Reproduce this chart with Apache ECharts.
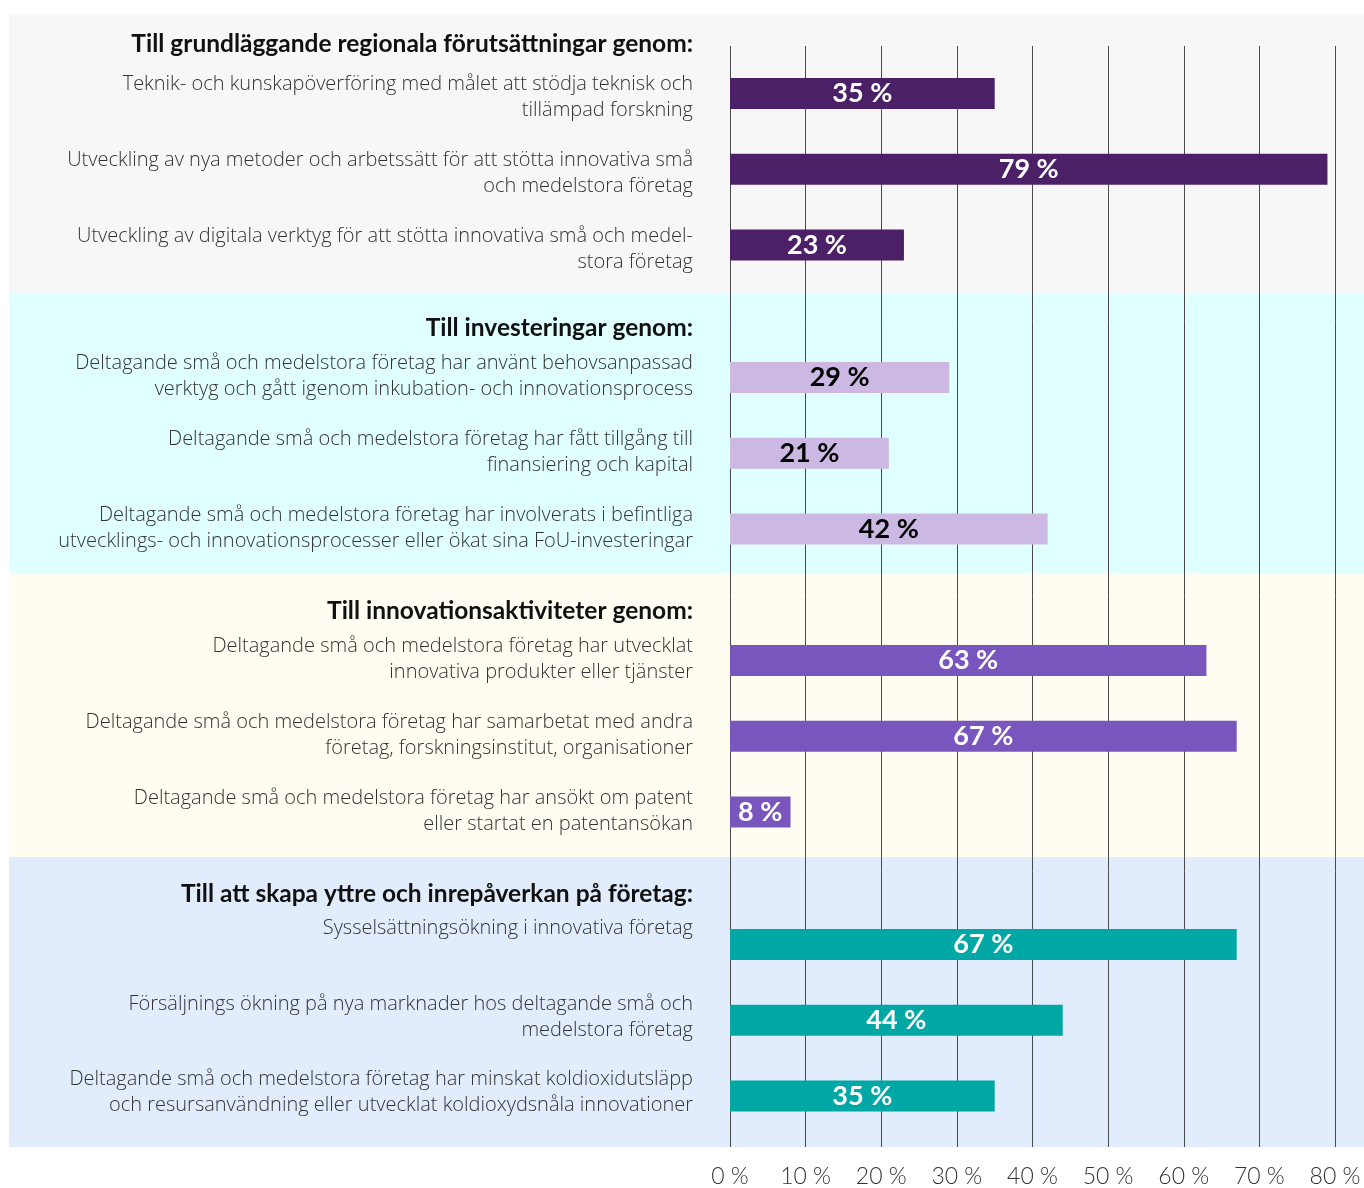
<!DOCTYPE html>
<html>
<head>
<meta charset="utf-8">
<script src="https://cdn.jsdelivr.net/npm/echarts@6/dist/echarts.min.js"></script>
<style>
  html, body { margin: 0; padding: 0; background: #ffffff; }
  #chart { width: 1364px; height: 1188px; }
</style>
</head>
<body>
<div id="chart"></div>
<script>
'use strict';

// group headings
const groupTitles = [
    'Till grundläggande regionala förutsättningar genom:',
    'Till investeringar genom:',
    'Till innovationsaktiviteter genom:',
    'Till att skapa yttre och inrepåverkan på företag:'
];

// category labels per group
const labels1 = [
    'Teknik- och kunskapöverföring med målet att stödja teknisk och\ntillämpad forskning',
    'Utveckling av nya metoder och arbetssätt för att stötta innovativa små\noch medelstora företag',
    'Utveckling av digitala verktyg för att stötta innovativa små och medel-\nstora företag'
];
const labels2 = [
    'Deltagande små och medelstora företag har använt behovsanpassad\nverktyg och gått igenom inkubation- och innovationsprocess',
    'Deltagande små och medelstora företag har fått tillgång till\nfinansiering och kapital',
    'Deltagande små och medelstora företag har involverats i befintliga\nutvecklings- och innovationsprocesser eller ökat sina FoU-investeringar'
];
const labels3 = [
    'Deltagande små och medelstora företag har utvecklat\ninnovativa produkter eller tjänster',
    'Deltagande små och medelstora företag har samarbetat med andra\nföretag, forskningsinstitut, organisationer',
    'Deltagande små och medelstora företag har ansökt om patent\neller startat en patentansökan'
];
const labels4 = [
    'Sysselsättningsökning i innovativa företag',
    'Försäljnings ökning på nya marknader hos deltagande små och\nmedelstora företag',
    'Deltagande små och medelstora företag har minskat koldioxidutsläpp\noch resursanvändning eller utvecklat koldioxydsnåla innovationer'
];

// values (%)
const values1 = [35, 79, 23];
const values2 = [29, 21, 42];
const values3 = [63, 67, 8];
const values4 = [67, 44, 35];

const labels = [labels1, labels2, labels3, labels4];
const values = [values1, values2, values3, values4];

// styling per group
const barColors = ['#4b2067', '#cbb9e3', '#7856bd', '#00a8a5'];
const valueColors = ['#ffffff', '#000000', '#ffffff', '#ffffff'];
const bandColors = ['#f7f7f7', '#e0ffff', '#fffdf2', '#e1edfd'];
const bandTops = [14, 293, 573, 857, 1147];
const gridTops = [55.6, 339.6, 622.6, 906.6];
const headerY = [44, 328, 611, 894];
const labelShift = [4, -1, -1, -3.5];   // vertical nudge of the category text

const FONT = 'Lato, "Open Sans", sans-serif';
const LABEL_FONT = '"Open Sans", Lato, sans-serif';
const LEFT = 730, RIGHT = 29, ROW_H = 227.4;

let myChart = echarts.init(document.getElementById('chart'));

let grids = [{left: LEFT, right: RIGHT, top: 46, bottom: 41}];
let xAxes = [{
    gridIndex: 0, type: 'value', min: 0, max: 80, interval: 10,
    axisLine: {show: false}, axisTick: {show: false},
    splitLine: {show: true, lineStyle: {color: '#4a4a4a', width: 1}},
    axisLabel: {
        formatter: '{value} %', color: '#333333', fontSize: 23,
        fontFamily: FONT, fontWeight: 300, margin: 18
    }
}];
let yAxes = [{gridIndex: 0, type: 'value', show: false}];
let series = [];
let graphics = [];

for (let g = 0; g < 4; g++) {
    graphics.push({
        type: 'rect', z: -10, silent: true,
        shape: {x: 9, y: bandTops[g], width: 1355, height: bandTops[g + 1] - bandTops[g]},
        style: {fill: bandColors[g]}
    });
    graphics.push({
        type: 'text', z: 10,
        x: 693, y: headerY[g],
        style: {
            text: groupTitles[g], align: 'right', verticalAlign: 'middle',
            font: 'bold 24.5px ' + FONT, fill: '#111111'
        }
    });

    let gi = g + 1;
    let sh = labelShift[g];
    let pad = sh >= 0 ? [2 * sh, 0, 0, 0] : [0, 0, -2 * sh, 0];
    // single-line labels sit with the top of the bar, like the first line of the others
    let singlePad = 33 + 2 * sh;

    grids.push({left: LEFT, right: RIGHT, top: gridTops[g], height: ROW_H});
    xAxes.push({gridIndex: gi, type: 'value', min: 0, max: 80, show: false});
    yAxes.push({
        gridIndex: gi, type: 'category', inverse: true, data: labels[g],
        axisLine: {show: false}, axisTick: {show: false}, splitLine: {show: false},
        axisLabel: {
            margin: 37, color: '#333333', fontSize: 20, lineHeight: 26,
            fontFamily: LABEL_FONT, fontWeight: 300, align: 'right', padding: pad,
            formatter: function (v) { return v.indexOf('\n') < 0 ? '{s|' + v + '}' : v; },
            rich: {
                s: {
                    color: '#333333', fontSize: 20, lineHeight: 26,
                    fontFamily: LABEL_FONT, fontWeight: 300, padding: [0, 0, singlePad, 0]
                }
            }
        }
    });
    series.push({
        type: 'bar', xAxisIndex: gi, yAxisIndex: gi,
        data: values[g], barWidth: 31,
        itemStyle: {color: barColors[g]},
        label: {
            show: true, position: 'inside', formatter: '{c} %',
            color: valueColors[g], fontSize: 27, fontWeight: 'bold', fontFamily: FONT
        },
        silent: true
    });
}

let option = {
    animation: false,
    backgroundColor: '#ffffff',
    graphic: {elements: graphics},
    grid: grids,
    xAxis: xAxes,
    yAxis: yAxes,
    series: series
};
myChart.setOption(option);
</script>
</body>
</html>
